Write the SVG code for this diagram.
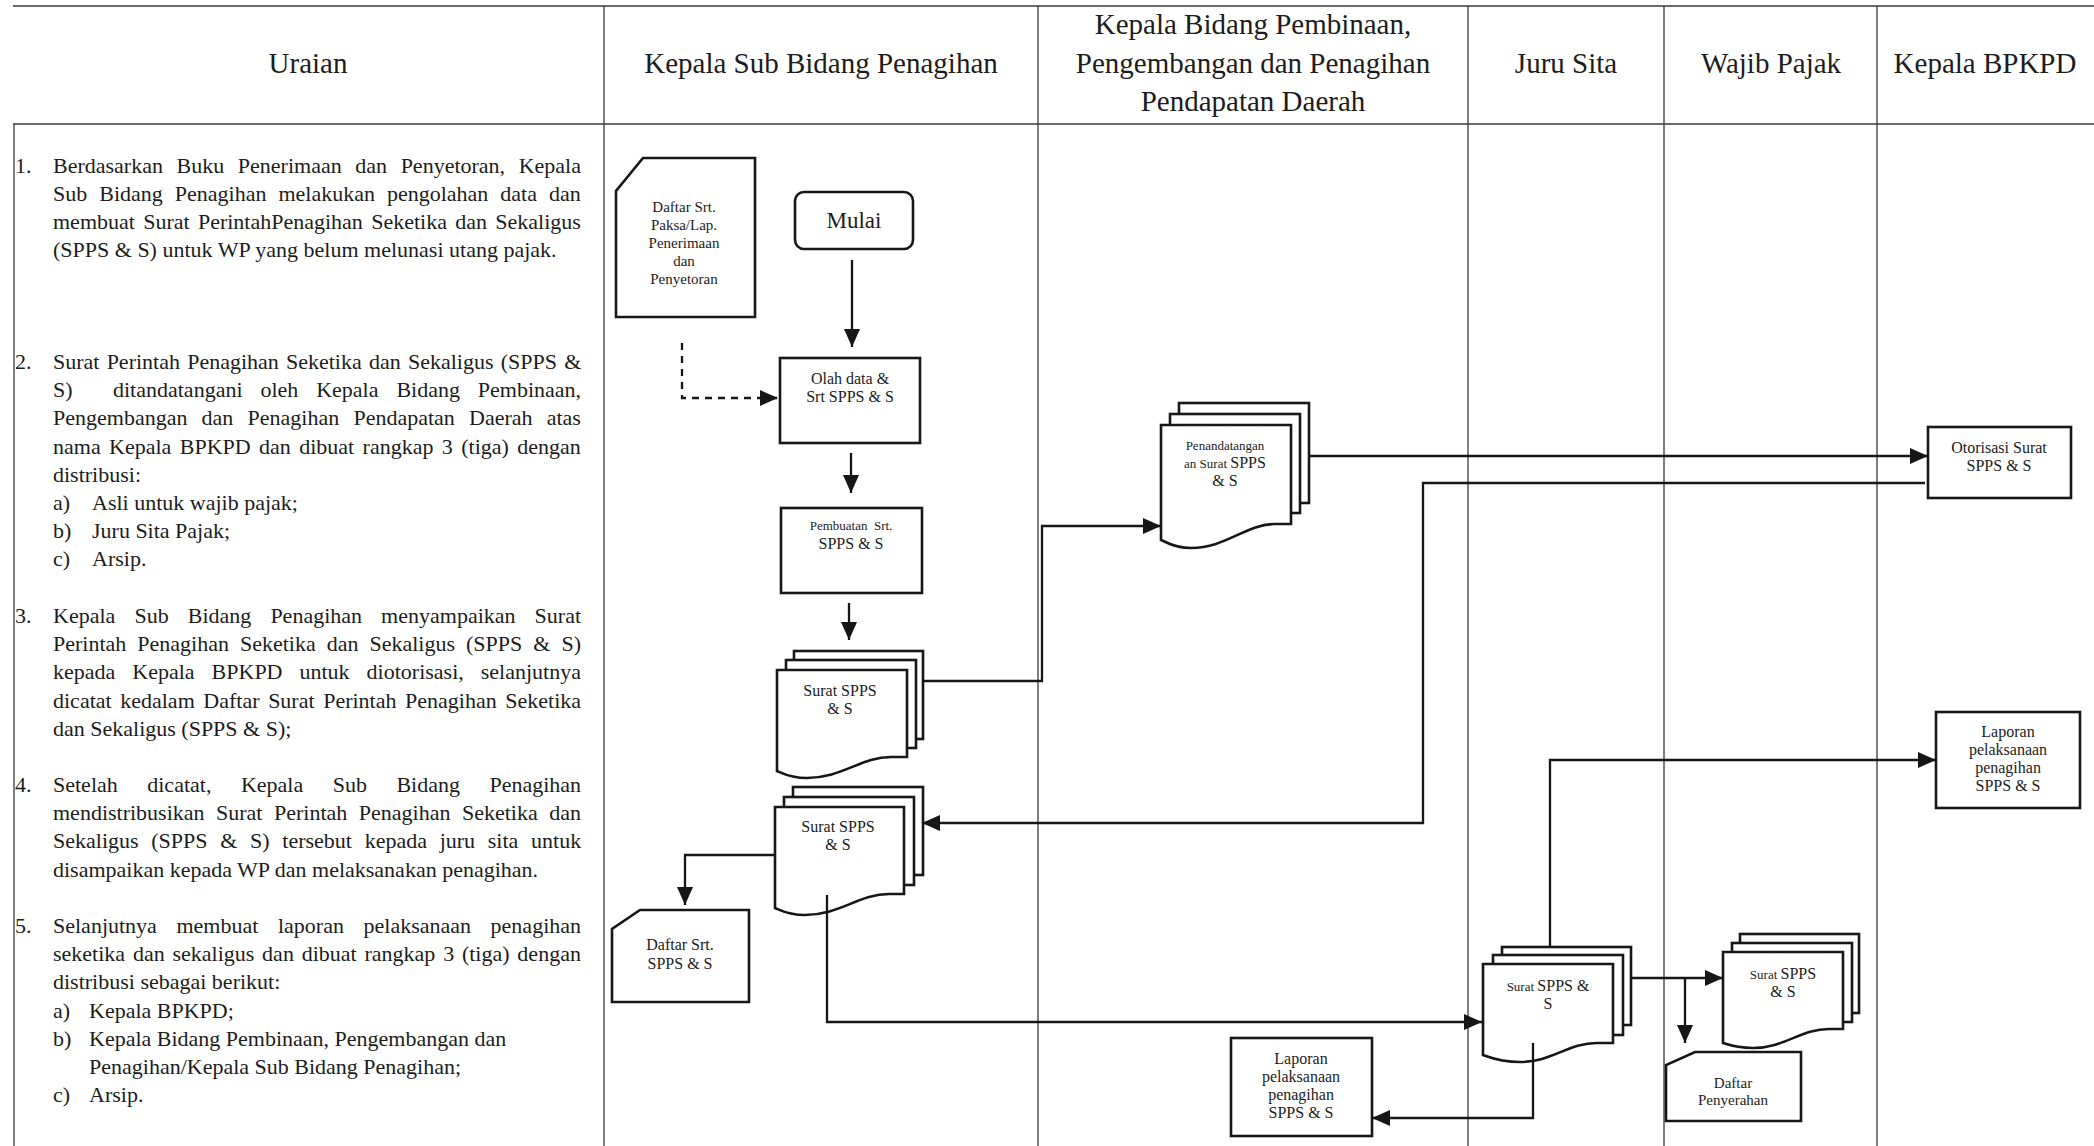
<svg xmlns="http://www.w3.org/2000/svg" width="2094" height="1146" viewBox="0 0 2094 1146">
  <defs>
    <style>
      .grid { fill: none; stroke: #3a3a3a; stroke-width: 1.3; }
      .box { fill: #fff; stroke: #161616; stroke-width: 2.6; }
      .conn { fill: none; stroke: #161616; stroke-width: 2.3; }
      .dash { stroke-dasharray: 7 6; }
      text { font-family: "Liberation Serif", "Times New Roman", serif; fill: #1c1c1c; }
      .hd { font-size: 29px; text-anchor: middle; }
      .tx { font-size: 22px; }
      .lb { font-size: 16px; text-anchor: middle; }
      .lb15 { font-size: 15px; text-anchor: middle; }
      .sm { font-size: 13px; }
    </style>
    <marker id="arr" markerUnits="userSpaceOnUse" markerWidth="19" markerHeight="17" refX="18" refY="8" orient="auto">
      <path d="M0,0 L18,8 L0,16 Z" fill="#161616"/>
    </marker>
  </defs>

  <rect x="0" y="0" width="2094" height="1146" fill="#fff"/>

  <!-- table frame and swimlane dividers -->
  <g id="grid" class="grid">
    <line x1="13" y1="6" x2="2094" y2="6"/>
    <line x1="13" y1="124" x2="2094" y2="124"/>
    <line x1="14" y1="124" x2="14" y2="1146"/>
    <line x1="604" y1="6" x2="604" y2="1146"/>
    <line x1="1038" y1="6" x2="1038" y2="1146"/>
    <line x1="1468" y1="6" x2="1468" y2="1146"/>
    <line x1="1664" y1="6" x2="1664" y2="1146"/>
    <line x1="1877" y1="6" x2="1877" y2="1146"/>
  </g>

  <!-- column headings -->
  <g id="headers">
    <text class="hd" x="308" y="73">Uraian</text>
    <text class="hd" x="821" y="73">Kepala Sub Bidang Penagihan</text>
    <text class="hd" x="1253" y="34">Kepala Bidang Pembinaan,</text>
    <text class="hd" x="1253" y="73">Pengembangan dan Penagihan</text>
    <text class="hd" x="1253" y="111">Pendapatan Daerah</text>
    <text class="hd" x="1566" y="73">Juru Sita</text>
    <text class="hd" x="1771" y="73">Wajib Pajak</text>
    <text class="hd" x="1985" y="73">Kepala BPKPD</text>
  </g>

  <!-- procedure description -->
  <g id="uraian" class="tx">
    <text x="15" y="173">1.</text>
    <text x="53" y="173" word-spacing="8.1">Berdasarkan Buku Penerimaan dan Penyetoran, Kepala</text>
    <text x="53" y="201" word-spacing="6.5">Sub Bidang Penagihan melakukan pengolahan data dan</text>
    <text x="53" y="229" word-spacing="2.8">membuat Surat PerintahPenagihan Seketika dan Sekaligus</text>
    <text x="53" y="257">(SPPS &amp; S) untuk WP yang belum melunasi utang pajak.</text>

    <text x="15" y="369">2.</text>
    <text x="53" y="369" word-spacing="1.7">Surat Perintah Penagihan Seketika dan Sekaligus (SPPS &amp;</text>
    <text x="53" y="397">S)</text>
    <text x="113" y="397" word-spacing="12.4">ditandatangani oleh Kepala Bidang Pembinaan,</text>
    <text x="53" y="425" word-spacing="8.7">Pengembangan dan Penagihan Pendapatan Daerah atas</text>
    <text x="53" y="454" word-spacing="2.9">nama Kepala BPKPD dan dibuat rangkap 3 (tiga) dengan</text>
    <text x="53" y="482">distribusi:</text>
    <text x="53" y="510">a)</text><text x="92" y="510">Asli untuk wajib pajak;</text>
    <text x="53" y="538">b)</text><text x="92" y="538">Juru Sita Pajak;</text>
    <text x="53" y="566">c)</text><text x="92" y="566">Arsip.</text>

    <text x="15" y="623">3.</text>
    <text x="53" y="623" word-spacing="13.6">Kepala Sub Bidang Penagihan menyampaikan Surat</text>
    <text x="53" y="651" word-spacing="5.5">Perintah Penagihan Seketika dan Sekaligus (SPPS &amp; S)</text>
    <text x="53" y="679" word-spacing="11.5">kepada Kepala BPKPD untuk diotorisasi, selanjutnya</text>
    <text x="53" y="708" word-spacing="3.1">dicatat kedalam Daftar Surat Perintah Penagihan Seketika</text>
    <text x="53" y="736">dan Sekaligus (SPPS &amp; S);</text>

    <text x="15" y="792">4.</text>
    <text x="53" y="792" word-spacing="24">Setelah dicatat, Kepala Sub Bidang Penagihan</text>
    <text x="53" y="820" word-spacing="6">mendistribusikan Surat Perintah Penagihan Seketika dan</text>
    <text x="53" y="848" word-spacing="7.2">Sekaligus (SPPS &amp; S) tersebut kepada juru sita untuk</text>
    <text x="53" y="877">disampaikan kepada WP dan melaksanakan penagihan.</text>

    <text x="15" y="933">5.</text>
    <text x="53" y="933" word-spacing="14.1">Selanjutnya membuat laporan pelaksanaan penagihan</text>
    <text x="53" y="961" word-spacing="2.3">seketika dan sekaligus dan dibuat rangkap 3 (tiga) dengan</text>
    <text x="53" y="989">distribusi sebagai berikut:</text>
    <text x="53" y="1018">a)</text><text x="89" y="1018">Kepala BPKPD;</text>
    <text x="53" y="1046">b)</text><text x="89" y="1046">Kepala Bidang Pembinaan, Pengembangan dan</text>
    <text x="89" y="1074">Penagihan/Kepala Sub Bidang Penagihan;</text>
    <text x="53" y="1102">c)</text><text x="89" y="1102">Arsip.</text>
  </g>

  <!-- Kepala Sub Bidang Penagihan lane -->
  <g id="daftar-paksa">
    <path class="box" d="M643,158 H755 V317 H616 V191 Z"/>
    <text class="lb15" x="684" y="212">Daftar Srt.</text>
    <text class="lb15" x="684" y="230">Paksa/Lap.</text>
    <text class="lb15" x="684" y="248">Penerimaan</text>
    <text class="lb15" x="684" y="266">dan</text>
    <text class="lb15" x="684" y="284">Penyetoran</text>
  </g>

  <g id="mulai">
    <rect class="box" x="795" y="192" width="118" height="57" rx="9"/>
    <text x="854" y="228" font-size="23" text-anchor="middle">Mulai</text>
  </g>

  <g id="olah-data">
    <rect class="box" x="780" y="358" width="140" height="85"/>
    <text class="lb" x="850" y="384">Olah data &amp;</text>
    <text class="lb" x="850" y="402">Srt SPPS &amp; S</text>
  </g>

  <g id="pembuatan">
    <rect class="box" x="781" y="508" width="141" height="85"/>
    <text class="lb sm" x="851" y="530" xml:space="preserve">Pembuatan  Srt.</text>
    <text class="lb" x="851" y="549">SPPS &amp; S</text>
  </g>

  <g id="surat-spps-1">
    <rect class="box" x="794" y="651" width="129" height="88"/>
    <rect class="box" x="786" y="660" width="130" height="88"/>
    <path class="box" d="M777,670 H907 V757 L891,757 C861,757 842,778 807,778 C790,778 782,773 777,771 Z"/>
    <text class="lb" x="840" y="696">Surat SPPS</text>
    <text class="lb" x="840" y="714">&amp; S</text>
  </g>

  <g id="surat-spps-2">
    <rect class="box" x="793" y="787" width="130" height="88"/>
    <rect class="box" x="784" y="797" width="130" height="88"/>
    <path class="box" d="M775,807 H904 V894 L889,894 C859,894 840,915 805,915 C788,915 780,910 775,908 Z"/>
    <text class="lb" x="838" y="832">Surat SPPS</text>
    <text class="lb" x="838" y="850">&amp; S</text>
  </g>

  <g id="daftar-spps">
    <path class="box" d="M640,910 H749 V1002 H612 V929 Z"/>
    <text class="lb" x="680" y="950">Daftar Srt.</text>
    <text class="lb" x="680" y="969">SPPS &amp; S</text>
  </g>

  <!-- Kepala Bidang lane -->
  <g id="penandatanganan">
    <rect class="box" x="1179" y="403" width="130" height="100"/>
    <rect class="box" x="1170" y="414" width="130" height="99"/>
    <path class="box" d="M1161,425 H1291 V524 L1275,524 C1246,524 1226,548 1191,548 C1174,548 1166,542 1161,540 Z"/>
    <text class="lb sm" x="1225" y="450">Penandatangan</text>
    <text class="lb" x="1225" y="468"><tspan font-size="13">an Surat </tspan>SPPS</text>
    <text class="lb" x="1225" y="486">&amp; S</text>
  </g>

  <g id="laporan-kabid">
    <rect class="box" x="1231" y="1038" width="141" height="98"/>
    <text class="lb" x="1301" y="1064">Laporan</text>
    <text class="lb" x="1301" y="1082">pelaksanaan</text>
    <text class="lb" x="1301" y="1100">penagihan</text>
    <text class="lb" x="1301" y="1118">SPPS &amp; S</text>
  </g>

  <!-- Juru Sita lane -->
  <g id="surat-juru-sita">
    <rect class="box" x="1502" y="947" width="129" height="78"/>
    <rect class="box" x="1493" y="955" width="130" height="80"/>
    <path class="box" d="M1483,964 H1613 V1043 L1597,1043 C1568,1043 1552,1062 1520,1062 C1499,1062 1489,1057 1483,1055 Z"/>
    <text class="lb" x="1548" y="991"><tspan font-size="13">Surat </tspan>SPPS &amp;</text>
    <text class="lb" x="1548" y="1009">S</text>
  </g>

  <!-- Wajib Pajak lane -->
  <g id="surat-wajib-pajak">
    <rect class="box" x="1740" y="934" width="119" height="79"/>
    <rect class="box" x="1732" y="943" width="120" height="79"/>
    <path class="box" d="M1723,952 H1843 V1029 L1829,1029 C1801,1029 1784,1048 1753,1048 C1737,1048 1729,1045 1723,1043 Z"/>
    <text class="lb" x="1783" y="979"><tspan font-size="13">Surat </tspan>SPPS</text>
    <text class="lb" x="1783" y="997">&amp; S</text>
  </g>

  <g id="daftar-penyerahan">
    <path class="box" d="M1695,1052 H1801 V1121 H1666 V1065 Z"/>
    <text class="lb15" x="1733" y="1088">Daftar</text>
    <text class="lb15" x="1733" y="1105">Penyerahan</text>
  </g>

  <!-- Kepala BPKPD lane -->
  <g id="otorisasi">
    <rect class="box" x="1928" y="427" width="143" height="71"/>
    <text class="lb" x="1999" y="453">Otorisasi Surat</text>
    <text class="lb" x="1999" y="471">SPPS &amp; S</text>
  </g>

  <g id="laporan-bpkpd">
    <rect class="box" x="1936" y="712" width="144" height="96"/>
    <text class="lb" x="2008" y="737">Laporan</text>
    <text class="lb" x="2008" y="755">pelaksanaan</text>
    <text class="lb" x="2008" y="773">penagihan</text>
    <text class="lb" x="2008" y="791">SPPS &amp; S</text>
  </g>

  <!-- flow connectors -->
  <g id="connectors" class="conn">
    <path d="M852,260 V347" marker-end="url(#arr)"/>
    <path class="dash" d="M682,343 V398 H778" marker-end="url(#arr)"/>
    <path d="M851,453 V493" marker-end="url(#arr)"/>
    <path d="M849,603 V640" marker-end="url(#arr)"/>
    <path d="M923,681 H1042 V526 H1161" marker-end="url(#arr)"/>
    <path d="M1309,456 H1928" marker-end="url(#arr)"/>
    <path d="M1925,483 H1423 V823 H922" marker-end="url(#arr)"/>
    <path d="M775,855 H685 V905" marker-end="url(#arr)"/>
    <path d="M827,895 V1022 H1482" marker-end="url(#arr)"/>
    <path d="M1550,947 V760 H1936" marker-end="url(#arr)"/>
    <path d="M1631,978 H1723" marker-end="url(#arr)"/>
    <path d="M1685,978 V1043" marker-end="url(#arr)"/>
    <path d="M1533,1043 V1118 H1372" marker-end="url(#arr)"/>
  </g>
</svg>
